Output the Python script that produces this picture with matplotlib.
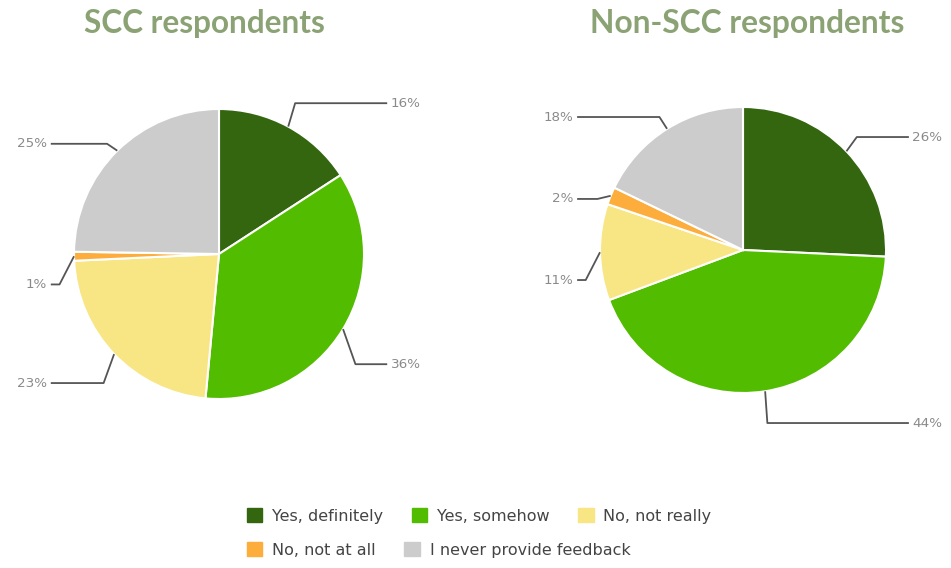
import matplotlib
matplotlib.use("Agg")
import matplotlib.pyplot as plt
from matplotlib.patches import Patch
import numpy as np

categories = ["Yes, definitely", "Yes, somehow", "No, not really",
              "No, not at all", "I never provide feedback"]
scc_values = [16, 36, 23, 1, 25]
non_scc_values = [26, 44, 11, 2, 18]
titles = ["SCC respondents", "Non-SCC respondents"]

colors = ["#33660f", "#52bc00", "#f8e584", "#fdad3c", "#cccccc"]

# layout: vertical label positions (in pie-radius units)
scc_label_y = [1.04, -0.76, -0.89, -0.21, 0.76]
non_label_y = [0.79, -1.21, -0.21, 0.357, 0.93]

W, H = 951, 568
fig = plt.figure(figsize=(W / 100, H / 100), dpi=100)
renderer = fig.canvas.get_renderer()


def draw_pie(cx, cy, R, values, label_y):
    L = 1.5
    size = 2 * L * R
    ax = fig.add_axes([(cx - size / 2) / W, (H - cy - size / 2) / H, size / W, size / H])
    ax.pie(values, colors=colors, startangle=90, counterclock=False, radius=1,
           wedgeprops=dict(edgecolor="white", linewidth=1.5))
    ax.set_xlim(-L, L)
    ax.set_ylim(-L, L)
    ax.set_aspect("equal")
    ax.axis("off")
    total = sum(values)
    cum = 0
    for v, ly in zip(values, label_y):
        mid = (cum + v / 2) / total * 2 * np.pi
        cum += v
        sx, cy_ = np.sin(mid), np.cos(mid)
        side = 1 if sx >= 0 else -1
        ex = 1.1 * sx
        xs = [1.0 * sx, ex, side * 1.16]
        ys = [1.0 * cy_, ly, ly]
        ax.plot(xs, ys, color="#555555", lw=1.3, clip_on=False, solid_capstyle="butt")
        ax.text(side * 1.185, ly, f"{v}%", ha="left" if side > 0 else "right",
                va="center", fontsize=9.7, color="#8a8a8a", clip_on=False)


def draw_title(text, x0, x1):
    t = fig.text((x0 + x1) / 2 / W, 1 - 24 / H, text, ha="center", va="center",
                 fontsize=22, fontweight="bold", color="#8ba374", family="Lato")
    w = t.get_window_extent(renderer).width
    t.set_fontsize(22 * (x1 - x0) / w)


draw_pie(219, 254, 145, scc_values, scc_label_y)
draw_pie(743, 250, 143, non_scc_values, non_label_y)
draw_title(titles[0], 84, 325)
draw_title(titles[1], 590, 905)

handles = [Patch(facecolor=c, edgecolor=c, label=l) for c, l in zip(colors, categories)]
rows = [[0, 1, 2], [3, 4]]
row_y = [516, 550]
for idx, y in zip(rows, row_y):
    fig.legend([handles[i] for i in idx], [categories[i] for i in idx],
               loc="center left", bbox_to_anchor=(247 / W, 1 - y / H), ncol=len(idx),
               frameon=False, fontsize=11.5, handlelength=0.95, handleheight=0.95,
               handletextpad=0.62, columnspacing=1.8, borderpad=0, borderaxespad=0,
               labelcolor="#444444")

fig.savefig("out.png", dpi=100, facecolor="white")
